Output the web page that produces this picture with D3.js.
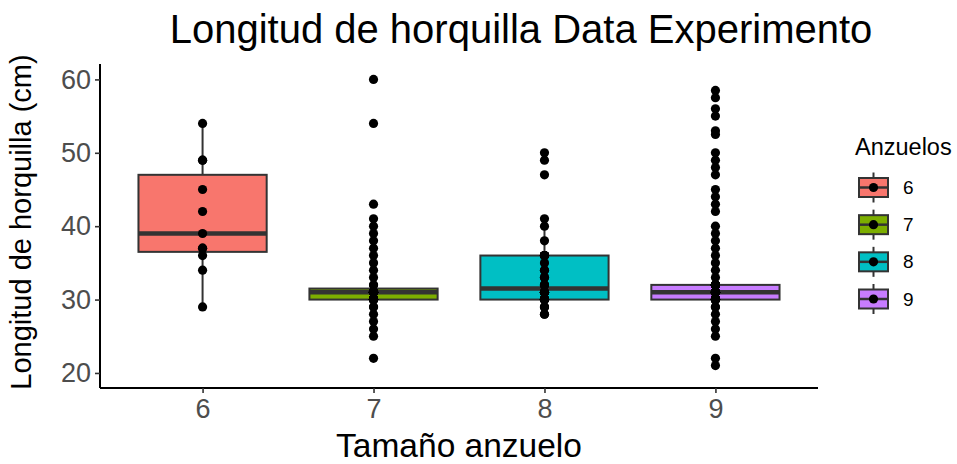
<!DOCTYPE html>
<html>
<head>
<meta charset="utf-8">
<script src="https://cdn.jsdelivr.net/npm/d3@7"></script>
<style>
  body { margin: 0; background: #fff; }
  text { font-family: "Liberation Sans", Arial, sans-serif; }
</style>
</head>
<body>
<div id="canvas"></div>
<script>
// datos
const categories = ["6", "7", "8", "9"];
const colors = ["#F8766D", "#7CAE00", "#00BFC4", "#C77CFF"];
const yTicks = [20, 30, 40, 50, 60];

const lengths6 = [29, 34, 36, 37, 37, 39, 42, 45, 49, 49, 54];
const lengths7 = [22, 25, 26, 27, 28, 29, 29,
    30, 30, 30, 30, 30, 30, 30, 30, 30, 30, 30, 30, 30, 30, 30, 30,
    31, 31, 31, 31, 31, 31, 31, 31, 31, 31, 31, 31, 31, 31, 31, 31, 31, 31,
    32, 32, 33, 34, 35, 36, 37, 38, 39, 40, 41, 43, 54, 60];
const lengths8 = [28, 28, 29, 29, 29,
    30, 30, 30, 30, 30, 30, 30, 30,
    31, 31, 31, 31, 31, 31, 31, 31,
    32, 32, 32, 32, 33, 33, 34, 34, 35,
    36, 36, 36, 36, 36, 36, 38, 40, 41, 47, 49, 50];
const lengths9 = [21, 22, 25, 26, 27, 28, 29, 29,
    30, 30, 30, 30, 30, 30, 30, 30, 30, 30, 30, 30, 30, 30, 30, 30, 30, 30, 30, 30,
    31, 31, 31, 31, 31, 31, 31, 31, 31, 31, 31, 31, 31, 31, 31, 31, 31, 31, 31, 31,
    32, 32, 32, 32, 32, 32, 32, 32, 32, 32, 32, 32, 32, 32, 32, 32, 32, 32, 32, 32,
    33, 34, 35, 36, 37, 38, 39, 40, 42, 43, 44, 45, 47, 48, 49, 50,
    52.5, 53, 55, 56, 57.5, 58.5];

const groups = [lengths6, lengths7, lengths8, lengths9];

const width = 957;
const height = 464;
const margin = { top: 64, left: 100, bottom: 76, right: 139 };
const iwidth = width - margin.left - margin.right;
const iheight = height - margin.top - margin.bottom;

const svg = d3.select("#canvas").append("svg")
    .attr("width", width)
    .attr("height", height);

const g = svg.append("g").attr("transform", `translate(${margin.left},${margin.top})`);

const x = d3.scalePoint()
    .domain(categories)
    .range([0, iwidth])
    .padding(0.6);

const y = d3.scaleLinear()
    .domain([17.95, 62.1])
    .range([iheight, 0]);

const boxW = x.step() * 0.75;

// estadisticas de cada caja
const stats = groups.map((vals, i) => {
    const s = vals.slice().sort(d3.ascending);
    const q1 = d3.quantile(s, 0.25);
    const med = d3.quantile(s, 0.5);
    const q3 = d3.quantile(s, 0.75);
    const iqr = q3 - q1;
    const lo = d3.min(s.filter(v => v >= q1 - 1.5 * iqr));
    const hi = d3.max(s.filter(v => v <= q3 + 1.5 * iqr));
    return { cat: categories[i], color: colors[i], q1, med, q3, lo, hi, vals: s };
});

// ejes
const yAxis = g.append("g")
    .call(d3.axisLeft(y).tickValues(yTicks).tickSize(5).tickPadding(4));
const xAxis = g.append("g")
    .attr("transform", `translate(0,${iheight})`)
    .call(d3.axisBottom(x).tickSize(5).tickPadding(3));

[xAxis, yAxis].forEach(ax => {
    ax.select(".domain").attr("stroke", "#000").attr("stroke-width", 2);
    ax.selectAll(".tick line").attr("stroke", "#333").attr("stroke-width", 1.6);
    ax.selectAll(".tick text")
        .attr("fill", "#4D4D4D")
        .style("font-size", "27px")
        .style("font-family", "'Liberation Sans', Arial, sans-serif");
});
xAxis.select(".domain").attr("d", `M0,0H${iwidth}`);
yAxis.select(".domain").attr("d", `M0,${iheight}V0`);
xAxis.selectAll(".tick text").attr("dy", "0.8em");

// cajas
const box = g.selectAll(".box").data(stats).enter().append("g").attr("class", "box");

box.append("line")
    .attr("x1", d => x(d.cat)).attr("x2", d => x(d.cat))
    .attr("y1", d => y(d.hi)).attr("y2", d => y(d.q3))
    .attr("stroke", "#333").attr("stroke-width", 2);
box.append("line")
    .attr("x1", d => x(d.cat)).attr("x2", d => x(d.cat))
    .attr("y1", d => y(d.q1)).attr("y2", d => y(d.lo))
    .attr("stroke", "#333").attr("stroke-width", 2);
box.append("rect")
    .attr("x", d => x(d.cat) - boxW / 2)
    .attr("y", d => y(d.q3))
    .attr("width", boxW)
    .attr("height", d => y(d.q1) - y(d.q3))
    .attr("fill", d => d.color)
    .attr("stroke", "#333").attr("stroke-width", 2);
box.append("line")
    .attr("x1", d => x(d.cat) - boxW / 2).attr("x2", d => x(d.cat) + boxW / 2)
    .attr("y1", d => y(d.med)).attr("y2", d => y(d.med))
    .attr("stroke", "#333").attr("stroke-width", 4.5);

// puntos
box.selectAll("circle")
    .data(d => d.vals.map(v => ({ cat: d.cat, v })))
    .enter().append("circle")
    .attr("cx", d => x(d.cat))
    .attr("cy", d => y(d.v))
    .attr("r", 4.6)
    .attr("fill", "#000");

// titulos
svg.append("text")
    .attr("x", 521).attr("y", 43)
    .attr("text-anchor", "middle")
    .style("font-size", "40px")
    .text("Longitud de horquilla Data Experimento");

svg.append("text")
    .attr("x", margin.left + iwidth / 2).attr("y", 457)
    .attr("text-anchor", "middle")
    .style("font-size", "33.5px")
    .text("Tamaño anzuelo");

svg.append("text")
    .attr("transform", `translate(31,${margin.top + iheight / 2 - 4}) rotate(-90)`)
    .attr("text-anchor", "middle")
    .style("font-size", "29px")
    .text("Longitud de horquilla (cm)");

// leyenda
const legend = svg.append("g").attr("transform", "translate(855,0)");
legend.append("text")
    .attr("x", 0).attr("y", 155)
    .style("font-size", "23.5px")
    .text("Anzuelos");

const keyY = d3.scalePoint().domain(categories).range([187.5, 299]);
const key = legend.selectAll(".key").data(stats).enter().append("g")
    .attr("class", "key")
    .attr("transform", d => `translate(0,${keyY(d.cat)})`);

key.append("line")
    .attr("x1", 18.5).attr("x2", 18.5).attr("y1", -15).attr("y2", 15)
    .attr("stroke", "#333").attr("stroke-width", 2);
key.append("rect")
    .attr("x", 4).attr("y", -9.5).attr("width", 29).attr("height", 19)
    .attr("fill", d => d.color)
    .attr("stroke", "#333").attr("stroke-width", 2);
key.append("line")
    .attr("x1", 4).attr("x2", 33).attr("y1", 0).attr("y2", 0)
    .attr("stroke", "#333").attr("stroke-width", 2.5);
key.append("circle")
    .attr("cx", 18.5).attr("cy", 0).attr("r", 4.6).attr("fill", "#000");
key.append("text")
    .attr("x", 48).attr("y", 0).attr("dy", "0.35em")
    .style("font-size", "19px")
    .text(d => d.cat);
</script>
</body>
</html>
